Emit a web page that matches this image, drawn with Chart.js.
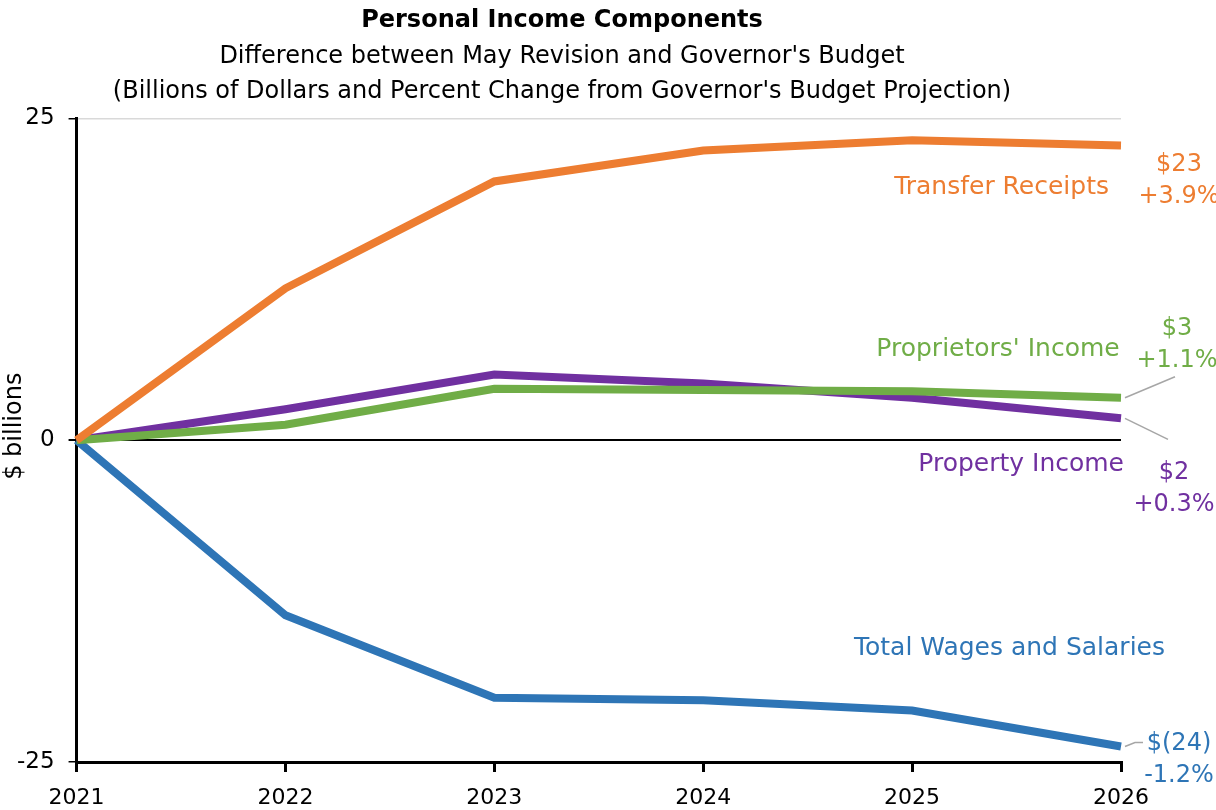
<!DOCTYPE html>
<html>
<head>
<meta charset="utf-8">
<script src="https://cdn.jsdelivr.net/npm/chart.js@4/dist/chart.umd.min.js"></script>
<style>
  html, body { margin: 0; padding: 0; background: #fff; }
  #wrap { width: 1216px; height: 810px; }
</style>
</head>
<body>
<div id="wrap"><canvas id="chart" width="1216" height="810"></canvas></div>
<script>
const FONT = '"DejaVu Sans", sans-serif';

const years = ['2021', '2022', '2023', '2024', '2025', '2026'];
const transferReceipts = [0, 11.8, 20.1, 22.5, 23.3, 22.9];
const proprietorsIncome = [0, 1.2, 4.0, 3.9, 3.8, 3.3];
const propertyIncome = [0, 2.4, 5.1, 4.4, 3.3, 1.7];
const wagesSalaries = [0, -13.6, -20.0, -20.2, -21.0, -23.8];

const seriesNames = ['Transfer Receipts', "Proprietors' Income", 'Property Income', 'Total Wages and Salaries'];
const seriesColors = ['#ED7D31', '#70AD47', '#7030A0', '#2E75B6'];
const endDollars = ['$23', '$3', '$2', '$(24)'];
const endPercents = ['+3.9%', '+1.1%', '+0.3%', '-1.2%'];

// label placement relative to last point (pixels): name label, end label, leader line end
const labelStyle = [
    { nameDx: -12, nameDy: 42, nameAlign: 'right', endDx: 58, endDy: 35, lead: null },
    { nameDx: -123, nameDy: -48, nameAlign: 'center', endDx: 56, endDy: -53, lead: [54, -21] },
    { nameDx: 3, nameDy: 46, nameAlign: 'right', endDx: 53, endDy: 70, lead: [47, 21] },
    { nameDx: 44, nameDy: -98, nameAlign: 'right', endDx: 58, endDy: 13, lead: [14, -4] }
];

const allSeries = [transferReceipts, proprietorsIncome, propertyIncome, wagesSalaries];

const labelPlugin = {
    id: 'seriesLabels',
    afterDatasetsDraw(chart) {
        const ctx = chart.ctx;
        ctx.save();
        ctx.textBaseline = 'middle';
        chart.data.datasets.forEach((ds, i) => {
            const pt = chart.getDatasetMeta(i).data[ds.data.length - 1];
            const st = labelStyle[i];
            ctx.fillStyle = seriesColors[i];
            ctx.font = '25px ' + FONT;
            ctx.textAlign = st.nameAlign;
            ctx.fillText(seriesNames[i], pt.x + st.nameDx, pt.y + st.nameDy);
            ctx.font = '24px ' + FONT;
            ctx.textAlign = 'center';
            ctx.fillText(endDollars[i], pt.x + st.endDx, pt.y + st.endDy - 16);
            ctx.fillText(endPercents[i], pt.x + st.endDx, pt.y + st.endDy + 16);
            if (st.lead) {
                ctx.strokeStyle = '#a6a6a6';
                ctx.lineWidth = 1.5;
                ctx.beginPath();
                ctx.moveTo(pt.x + 4, pt.y);
                ctx.lineTo(pt.x + st.lead[0], pt.y + st.lead[1]);
                if (i === 3) ctx.lineTo(pt.x + st.lead[0] + 8, pt.y + st.lead[1]);
                ctx.stroke();
            }
        });
        // y axis title
        ctx.fillStyle = '#000';
        ctx.font = '24px ' + FONT;
        ctx.translate(15, chart.chartArea.top + (chart.chartArea.bottom - chart.chartArea.top) / 2 - 14);
        ctx.rotate(-Math.PI / 2);
        ctx.textAlign = 'center';
        ctx.fillText('$ billions', 0, 0);
        ctx.restore();
    }
};

const ctx = document.getElementById('chart').getContext('2d');
new Chart(ctx, {
    type: 'line',
    data: {
        labels: years,
        datasets: allSeries.map((vals, i) => ({
            label: seriesNames[i],
            data: vals,
            borderColor: seriesColors[i],
            borderWidth: 8,
            pointRadius: 0,
            tension: 0,
            fill: false
        }))
    },
    options: {
        responsive: false,
        animation: false,
        layout: { padding: { left: 3, right: 95, top: 0, bottom: 0 } },
        plugins: {
            legend: { display: false },
            tooltip: { enabled: false },
            title: {
                display: true,
                text: 'Personal Income Components',
                color: '#000',
                font: { family: FONT, size: 24, weight: 'bold', lineHeight: 1.2 },
                padding: { top: 6, bottom: 5 }
            },
            subtitle: {
                display: true,
                text: ["Difference between May Revision and Governor's Budget",
                       "(Billions of Dollars and Percent Change from Governor's Budget Projection)"],
                color: '#000',
                font: { family: FONT, size: 24, lineHeight: 1.45 },
                padding: { top: 0, bottom: 9 }
            }
        },
        scales: {
            x: {
                offset: false,
                afterFit: scale => { scale.height = 48; },
                border: { color: '#000', width: 3 },
                grid: { drawOnChartArea: false, drawTicks: true, tickLength: 10, color: '#000', lineWidth: 3 },
                ticks: { color: '#000', font: { family: FONT, size: 22, lineHeight: 0.95 }, padding: 16, maxRotation: 0 }
            },
            y: {
                min: -25,
                max: 25,
                border: { color: '#000', width: 3 },
                grid: {
                    color: c => c.tick.value === 0 ? '#000' : '#d9d9d9',
                    lineWidth: c => c.tick.value === 0 ? 2 : 1.5,
                    drawTicks: true,
                    tickLength: 8,
                    tickColor: '#000'
                },
                ticks: { stepSize: 25, color: '#000', font: { family: FONT, size: 23 }, padding: 14 }
            }
        }
    },
    plugins: [labelPlugin]
});
</script>
</body>
</html>
